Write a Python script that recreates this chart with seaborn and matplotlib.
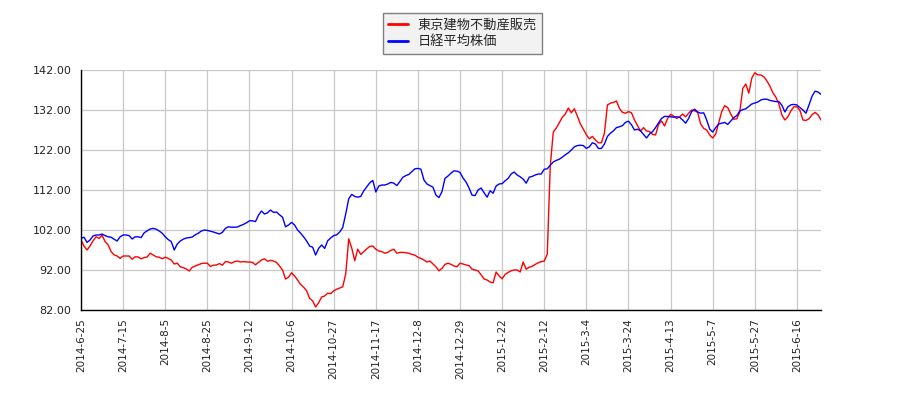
import matplotlib
matplotlib.use("Agg")
import matplotlib.pyplot as plt
import seaborn as sns
import pandas as pd

# ---- data ----
series_names = ["東京建物不動産販売", "日経平均株価"]
series_colors = ["#ff0000", "#0000ff"]

tick_labels = ["2014-6-25", "2014-7-15", "2014-8-5", "2014-8-25", "2014-9-12",
               "2014-10-6", "2014-10-27", "2014-11-17", "2014-12-8", "2014-12-29",
               "2015-1-22", "2015-2-12", "2015-3-4", "2015-3-24", "2015-4-13",
               "2015-5-7", "2015-5-27", "2015-6-16"]
tick_step = 14  # trading days between labelled ticks

y_ticks = [82, 92, 102, 112, 122, 132, 142]

tatemono = [
    99.5, 98, 97, 98, 99.3, 100.3, 99.9, 100.7, 99.1, 98.3,
    96.6, 95.8, 95.5, 94.9, 95.5, 95.5, 95.5, 94.7, 95.3, 95.25,
    94.8, 95.1, 95.25, 96.2, 95.75, 95.3, 95.2, 94.8, 95.2, 94.9,
    94.5, 93.5, 93.7, 92.8, 92.6, 92.25, 91.75, 92.7, 93, 93.3,
    93.6, 93.7, 93.7, 92.9, 93.2, 93.25, 93.6, 93.2, 94.1, 94,
    93.7, 94.1, 94.25, 94, 94.1, 94, 94, 93.9, 93.3, 93.9,
    94.5, 94.8, 94.2, 94.4, 94.25, 93.9, 93, 92, 89.75, 90.2,
    91.3, 90.5, 89.5, 88.4, 87.7, 86.8, 84.9, 84.3, 82.75, 83.8,
    85.25, 85.5, 86.2, 86.1, 86.8, 87.2, 87.5, 87.8, 91, 99.8,
    97.5, 94.3, 97.2, 95.9, 96.6, 97.3, 97.9, 98, 97.2, 96.75,
    96.6, 96.2, 96.4, 96.9, 97.2, 96.2, 96.4, 96.4, 96.3, 96.2,
    95.9, 95.7, 95.2, 94.9, 94.5, 94, 94.25, 93.5, 92.8, 91.8,
    92.4, 93.4, 93.7, 93.4, 93, 92.8, 93.7, 93.5, 93.25, 93.1,
    92.2, 92, 91.8, 90.8, 89.75, 89.5, 89, 88.8, 91.5, 90.5,
    89.8, 90.9, 91.4, 91.8, 92, 92, 91.5, 94, 92.2, 92.7,
    92.9, 93.4, 93.8, 94.1, 94.2, 96, 118, 126.5, 127.5, 128.8,
    130.2, 131, 132.5, 131.3, 132.3, 130.5, 128.5, 127.2, 125.8, 124.8,
    125.4, 124.5, 123.8, 123.8, 126.2, 133.25, 133.7, 133.9, 134.25, 132.4,
    131.4, 131.2, 131.6, 131.3, 129.5, 128.1, 126.75, 127.6, 126.75, 126.6,
    125.9, 125.75, 128.4, 129.25, 128, 129.9, 130.9, 130.5, 129.9, 130.25,
    131, 130.3, 131.2, 132, 131.8, 131.4, 128.5, 127.4, 127, 125.75,
    125, 126, 128.8, 131.6, 133.1, 132.6, 131, 129.7, 129.8, 131.5,
    137.4, 138.5, 136.2, 140, 141.3, 140.8, 140.75, 140.3, 139.3, 138,
    136.3, 135.2, 133.5, 130.75, 129.5, 130.3, 131.8, 132.8, 132.8, 131.9,
    129.5, 129.4, 129.8, 130.8, 131.4, 130.8, 129.5,
]

nikkei = [
    99.9, 100.2, 98.9, 99.5, 100.5, 100.75, 100.75, 101, 100.6, 100.3,
    100.2, 99.7, 99.25, 100.3, 100.75, 100.75, 100.6, 99.75, 100.3, 100.3,
    100.1, 101.3, 101.8, 102.25, 102.4, 102.2, 101.75, 101.2, 100.3, 99.6,
    99.1, 97, 98.5, 99.25, 99.7, 100, 100.1, 100.25, 100.8, 101.2,
    101.75, 102, 101.9, 101.7, 101.5, 101.25, 101, 101.4, 102.4, 102.8,
    102.7, 102.7, 102.75, 103.1, 103.4, 103.8, 104.3, 104.3, 104.1, 105.7,
    106.75, 106, 106.3, 107, 106.4, 106.5, 105.8, 105.2, 102.8, 103.25,
    103.9, 103.25, 102, 101.2, 100.3, 99.25, 98, 97.7, 95.75, 97.4,
    98.25, 97.4, 99.3, 100, 100.6, 100.8, 101.5, 102.6, 106, 109.8,
    110.9, 110.4, 110.2, 110.4, 111.8, 112.8, 113.8, 114.4, 111.5, 113,
    113.25, 113.25, 113.5, 113.9, 113.7, 113.1, 114.1, 115.2, 115.6, 115.9,
    116.6, 117.3, 117.4, 117.2, 114.5, 113.5, 113.1, 112.7, 110.75, 110.1,
    111.6, 114.9, 115.5, 116.2, 116.8, 116.7, 116.4, 115, 114, 112.5,
    110.7, 110.6, 112, 112.5, 111.3, 110.2, 111.8, 111.2, 113, 113.5,
    113.6, 114.3, 114.9, 116, 116.5, 115.75, 115.3, 114.7, 113.7, 115.2,
    115.4, 115.75, 116, 116, 117.2, 117.3, 118.2, 119, 119.4, 119.7,
    120.2, 120.8, 121.3, 122, 122.8, 123.1, 123.2, 123.1, 122.4, 122.8,
    123.8, 123.5, 122.4, 122.4, 123.5, 125.4, 126.2, 126.8, 127.6, 127.8,
    128.1, 128.9, 129.2, 128.3, 127, 127.2, 126.8, 125.9, 125, 126,
    126.6, 127.6, 128.8, 129.9, 130.4, 130.4, 130.3, 130.2, 130.3, 130.2,
    129.5, 128.7, 129.9, 131.6, 132.2, 131.5, 131.2, 131.3, 129.5, 127.2,
    126.5, 127.6, 128.5, 128.7, 128.9, 128.4, 129.25, 130.1, 130.6, 131.75,
    132.1, 132.3, 132.9, 133.5, 133.75, 134, 134.5, 134.7, 134.7, 134.4,
    134.25, 134.1, 134.1, 133.2, 131.5, 132.8, 133.3, 133.4, 133.25, 132.6,
    132, 131.2, 133.25, 135.4, 136.7, 136.5, 135.9,
]

# ---- build a tidy table ----
n = min(len(tatemono), len(nikkei))
day = list(range(n))
df = pd.DataFrame({"day": day,
                   series_names[0]: tatemono[:n],
                   series_names[1]: nikkei[:n]})
long = df.melt(id_vars="day", var_name="series", value_name="value")

sns.set_style("white")
plt.rcParams["font.family"] = ["DejaVu Sans", "Noto Sans CJK JP"]

fig = plt.figure(figsize=(9, 4), dpi=100)
ax = fig.add_axes([81 / 900, 90 / 400, 740 / 900, 240 / 400])

sns.lineplot(data=long, x="day", y="value", hue="series",
             hue_order=series_names,
             palette=dict(zip(series_names, series_colors)),
             linewidth=1.0, ax=ax, legend=True)

ax.set_xlim(0, n - 1)
ax.set_ylim(y_ticks[0], y_ticks[-1])
ax.set_yticks(y_ticks)
ax.set_yticklabels([f"{v:.2f}" for v in y_ticks], fontsize=8)
ax.set_xticks([k * tick_step for k in range(len(tick_labels))])
ax.set_xticklabels(tick_labels, rotation=90, fontsize=7.5)
ax.set_xlabel("")
ax.set_ylabel("")

ax.grid(True, color="#c8c8c8", linewidth=0.9)
ax.set_axisbelow(True)
for side in ("top", "right"):
    ax.spines[side].set_visible(False)
for side in ("left", "bottom"):
    ax.spines[side].set_color("black")
    ax.spines[side].set_linewidth(1.0)
ax.tick_params(axis="both", direction="in", length=4, width=1, color="black",
               labelcolor="#222222")
ax.tick_params(axis="y", pad=7)
ax.tick_params(axis="x", pad=6)

handles, labels = ax.get_legend_handles_labels()
ax.get_legend().remove()
leg = fig.legend(handles, labels, loc="upper left",
                 bbox_to_anchor=(383 / 900, 1 - 13 / 400),
                 borderaxespad=0.0,
                 frameon=True, fancybox=False,
                 handlelength=1.5, handletextpad=0.7, borderpad=0.4,
                 labelspacing=0.3,
                 prop={"family": ["Noto Sans CJK JP", "DejaVu Sans"], "size": 9.5})
for h in leg.get_lines():
    h.set_linewidth(2)
frame = leg.get_frame()
frame.set_facecolor("#f2f2f2")
frame.set_edgecolor("#808080")
frame.set_linewidth(1.0)
frame.set_alpha(1)

fig.savefig("out.png", dpi=100)
